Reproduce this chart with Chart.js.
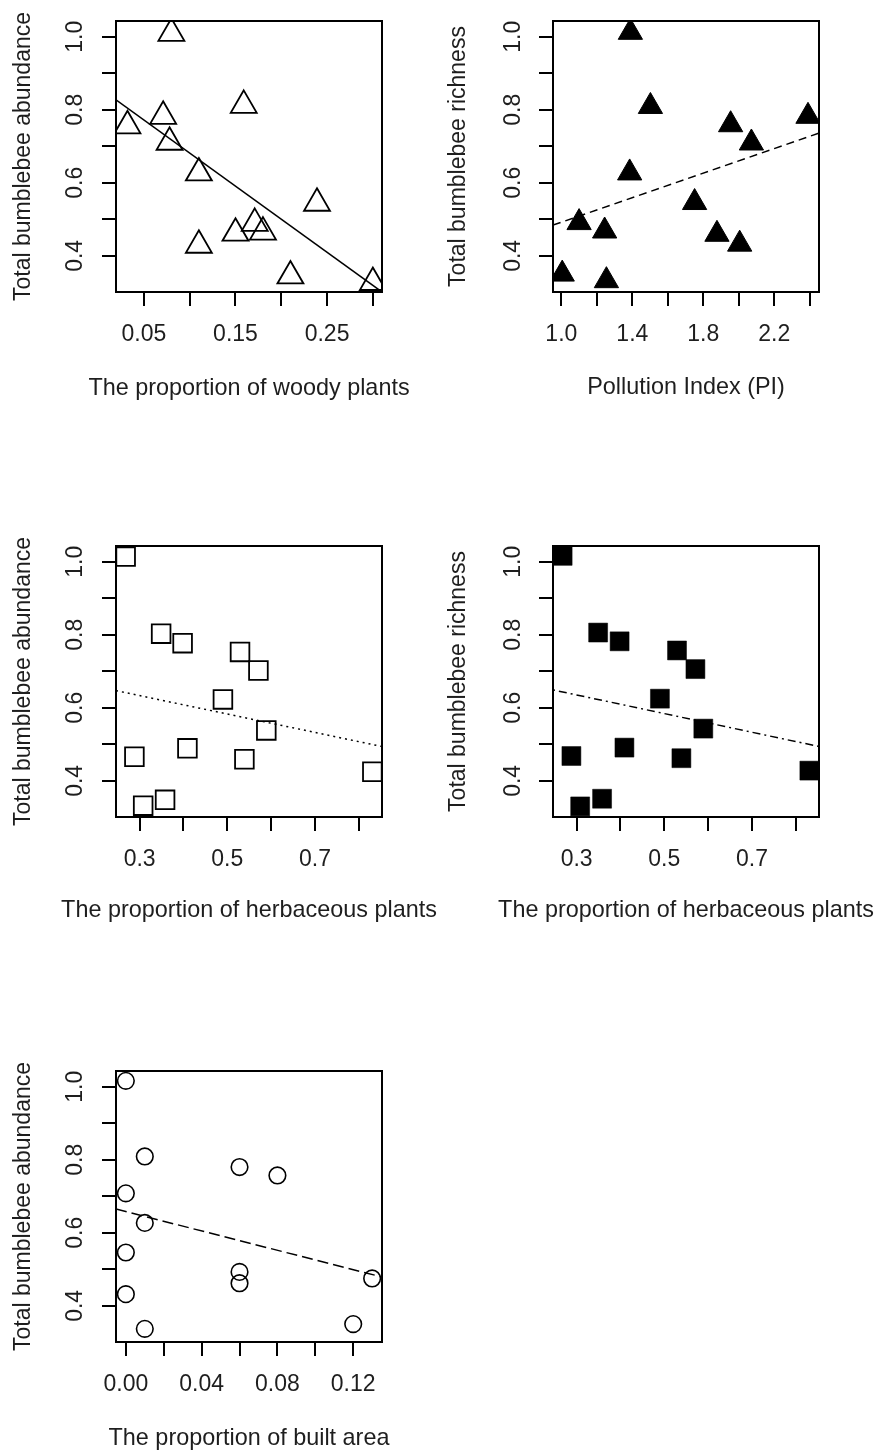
<!DOCTYPE html>
<html><head><meta charset="utf-8">
<script src="https://cdn.jsdelivr.net/npm/chart.js@4.4.1/dist/chart.umd.min.js"></script>
<style>
html,body{margin:0;padding:0;background:#fff;overflow:hidden;width:879px;height:1452px;}
#wrap{position:relative;width:879px;height:1452px;background:#fff;}
canvas{position:absolute;}
</style></head><body><div id="wrap">
<canvas id="c1" width="440" height="420" style="left:0;top:0"></canvas>
<canvas id="c2" width="439" height="420" style="left:440px;top:0"></canvas>
<canvas id="c3" width="440" height="420" style="left:0;top:525px"></canvas>
<canvas id="c4" width="439" height="420" style="left:440px;top:525px"></canvas>
<canvas id="c5" width="440" height="402" style="left:0;top:1050px"></canvas>
</div>
<script>
// ---------------- data ----------------
const woodyProportion = [0.080, 0.032, 0.071, 0.078, 0.159, 0.110, 0.110, 0.150, 0.171, 0.180, 0.239, 0.210, 0.300];
const woodyAbundance  = [1.009, 0.756, 0.782, 0.711, 0.812, 0.627, 0.429, 0.462, 0.489, 0.465, 0.544, 0.345, 0.327];
const woodyFitX = [0.0195, 0.310];
const woodyFitY = [0.827, 0.301];

const pollutionIndex    = [1.005, 1.100, 1.244, 1.254, 1.389, 1.385, 1.502, 1.751, 1.877, 2.005, 1.954, 2.071, 2.390];
const pollutionRichness = [0.350, 0.491, 0.468, 0.332, 1.012, 0.627, 0.809, 0.546, 0.459, 0.432, 0.759, 0.709, 0.782];
const pollutionFitX = [0.953, 2.452];
const pollutionFitY = [0.484, 0.736];

const herbProportion = [0.268, 0.349, 0.398, 0.529, 0.571, 0.490, 0.589, 0.288, 0.409, 0.539, 0.831, 0.308, 0.358];
const herbAbundance  = [1.014, 0.803, 0.777, 0.753, 0.702, 0.623, 0.538, 0.466, 0.489, 0.459, 0.425, 0.332, 0.348];
const herbRichness   = [1.016, 0.806, 0.782, 0.757, 0.706, 0.625, 0.543, 0.468, 0.491, 0.462, 0.428, 0.330, 0.351];
const herbFitX = [0.246, 0.853];
const herbAbundanceFitY = [0.647, 0.494];
const herbRichnessFitY  = [0.649, 0.494];

const builtProportion = [0.000, 0.010, 0.000, 0.010, 0.000, 0.000, 0.010, 0.060, 0.080, 0.060, 0.060, 0.120, 0.130];
const builtAbundance  = [1.016, 0.809, 0.708, 0.627, 0.546, 0.432, 0.337, 0.780, 0.757, 0.493, 0.462, 0.350, 0.475];
const builtFitX = [-0.0052, 0.1352];
const builtFitY = [0.665, 0.479];

// ---------------- ticks ----------------
const yTicks      = [0.4, 0.5, 0.6, 0.7, 0.8, 0.9, 1.0];
const yTickLabels = ['0.4', '', '0.6', '', '0.8', '', '1.0'];
const woodyTicks      = [0.05, 0.10, 0.15, 0.20, 0.25, 0.30];
const woodyTickLabels = ['0.05', '', '0.15', '', '0.25', ''];
const piTicks      = [1.0, 1.2, 1.4, 1.6, 1.8, 2.0, 2.2, 2.4];
const piTickLabels = ['1.0', '', '1.4', '', '1.8', '', '2.2', ''];
const herbTicks      = [0.3, 0.4, 0.5, 0.6, 0.7, 0.8];
const herbTickLabels = ['0.3', '', '0.5', '', '0.7', ''];
const builtTicks      = [0.00, 0.02, 0.04, 0.06, 0.08, 0.10, 0.12];
const builtTickLabels = ['0.00', '', '0.04', '', '0.08', '', '0.12'];

// ---------------- styling / drawing ----------------
const FONT = '"Liberation Sans", Arial, Helvetica, sans-serif';
const INK = '#000';
const TEXT = '#1e1e1e';
Chart.defaults.font.family = FONT;
Chart.defaults.font.size = 23;
Chart.defaults.color = TEXT;

const rFrame = {
  id: 'rFrame',
  afterDraw(chart, args, o) {
    const {ctx, chartArea: a, scales: {y}} = chart;
    ctx.save();
    ctx.strokeStyle = INK; ctx.lineWidth = 2;
    ctx.strokeRect(a.left, a.top, a.right - a.left, a.bottom - a.top);
    ctx.fillStyle = TEXT;
    ctx.font = '23px ' + FONT;
    ctx.textAlign = 'center'; ctx.textBaseline = 'middle';
    o.yTicks.forEach((v, i) => {
      const s = o.yLabels[i];
      if (!s) return;
      ctx.save();
      ctx.translate(a.left - o.yTickGap, y.getPixelForValue(v));
      ctx.rotate(-Math.PI / 2);
      ctx.fillText(s, 0, 0);
      ctx.restore();
    });
    ctx.save();
    ctx.translate(a.left - o.yTitleGap, (a.top + a.bottom) / 2);
    ctx.rotate(-Math.PI / 2);
    ctx.fillText(o.yTitle, 0, 0);
    ctx.restore();
    ctx.font = '23.4px ' + FONT;
    ctx.fillText(o.xTitle, (a.left + a.right) / 2, a.bottom + o.xTitleGap);
    ctx.restore();
  }
};

function panel(id, p) {
  const canvas = document.getElementById(id);
  const plotTop = 21, plotH = 271;
  const axisGrid = {drawOnChartArea: false, drawTicks: true, tickLength: 14, color: INK, lineWidth: 2};
  new Chart(canvas, {
    type: 'scatter',
    data: {datasets: [
      {data: p.fitX.map((x, i) => ({x, y: p.fitY[i]})), showLine: true, borderColor: INK,
       borderWidth: 1.5, borderDash: p.dash, pointRadius: 0, pointHoverRadius: 0, order: 0, clip: 0, fill: false},
      {data: p.x.map((x, i) => ({x, y: p.y[i]})), showLine: false, pointStyle: p.style,
       pointRadius: p.radius, pointHoverRadius: p.radius, borderColor: INK, backgroundColor: p.fill,
       pointBorderWidth: p.bw, borderWidth: p.bw, order: 1, clip: 0}
    ]},
    options: {
      responsive: false, animation: false, devicePixelRatio: 1, events: [],
      layout: {padding: {left: 0, top: plotTop, right: canvas.width - p.plotRight, bottom: 0}},
      plugins: {
        legend: {display: false}, tooltip: {enabled: false},
        rFrame: {yTicks: yTicks, yLabels: yTickLabels, yTitle: p.yTitle, xTitle: p.xTitle,
                 yTickGap: p.yTickGap, yTitleGap: p.yTitleGap, xTitleGap: p.xTitleGap}
      },
      scales: {
        x: {
          type: 'linear', min: p.xRange[0], max: p.xRange[1],
          afterBuildTicks: s => { s.ticks = p.xTicks.map(v => ({value: v})); },
          afterFit: s => { s.height = canvas.height - plotTop - plotH; },
          ticks: {autoSkip: false, maxRotation: 0, minRotation: 0, padding: 15, color: TEXT,
                  font: {size: 23, family: FONT}, callback: (v, i) => p.xLabels[i]},
          grid: axisGrid, border: {display: false}
        },
        y: {
          type: 'linear', min: 0.301, max: 1.043,
          afterBuildTicks: s => { s.ticks = yTicks.map(v => ({value: v})); },
          afterFit: s => { s.width = p.plotLeft; },
          ticks: {display: false, autoSkip: false},
          grid: axisGrid, border: {display: false}
        }
      }
    },
    plugins: [rFrame]
  });
}

panel('c1', {x: woodyProportion, y: woodyAbundance, fitX: woodyFitX, fitY: woodyFitY, dash: [],
  style: 'triangle', radius: 15, fill: 'rgba(0,0,0,0)', bw: 1.8,
  xRange: [0.0195, 0.310], xTicks: woodyTicks, xLabels: woodyTickLabels,
  plotLeft: 116, plotRight: 382, yTickGap: 40, yTitleGap: 92, xTitleGap: 97,
  yTitle: 'Total bumblebee abundance', xTitle: 'The proportion of woody plants'});

panel('c2', {x: pollutionIndex, y: pollutionRichness, fitX: pollutionFitX, fitY: pollutionFitY, dash: [8, 5],
  style: 'triangle', radius: 14, fill: INK, bw: 1,
  xRange: [0.953, 2.452], xTicks: piTicks, xLabels: piTickLabels,
  plotLeft: 113, plotRight: 379, yTickGap: 39, yTitleGap: 94.5, xTitleGap: 96,
  yTitle: 'Total bumblebee richness', xTitle: 'Pollution Index (PI)'});

panel('c3', {x: herbProportion, y: herbAbundance, fitX: herbFitX, fitY: herbAbundanceFitY, dash: [2, 4],
  style: 'rect', radius: 13.2, fill: 'rgba(0,0,0,0)', bw: 1.8,
  xRange: [0.246, 0.853], xTicks: herbTicks, xLabels: herbTickLabels,
  plotLeft: 116, plotRight: 382, yTickGap: 40, yTitleGap: 92, xTitleGap: 94,
  yTitle: 'Total bumblebee abundance', xTitle: 'The proportion of herbaceous plants'});

panel('c4', {x: herbProportion, y: herbRichness, fitX: herbFitX, fitY: herbRichnessFitY, dash: [2, 4, 8, 4],
  style: 'rect', radius: 13.4, fill: INK, bw: 0.5,
  xRange: [0.246, 0.853], xTicks: herbTicks, xLabels: herbTickLabels,
  plotLeft: 113, plotRight: 379, yTickGap: 39, yTitleGap: 94.5, xTitleGap: 94,
  yTitle: 'Total bumblebee richness', xTitle: 'The proportion of herbaceous plants'});

panel('c5', {x: builtProportion, y: builtAbundance, fitX: builtFitX, fitY: builtFitY, dash: [11, 5],
  style: 'circle', radius: 8.3, fill: 'rgba(0,0,0,0)', bw: 1.6,
  xRange: [-0.0052, 0.1352], xTicks: builtTicks, xLabels: builtTickLabels,
  plotLeft: 116, plotRight: 382, yTickGap: 40, yTitleGap: 92, xTitleGap: 97,
  yTitle: 'Total bumblebee abundance', xTitle: 'The proportion of built area'});
</script></body></html>
